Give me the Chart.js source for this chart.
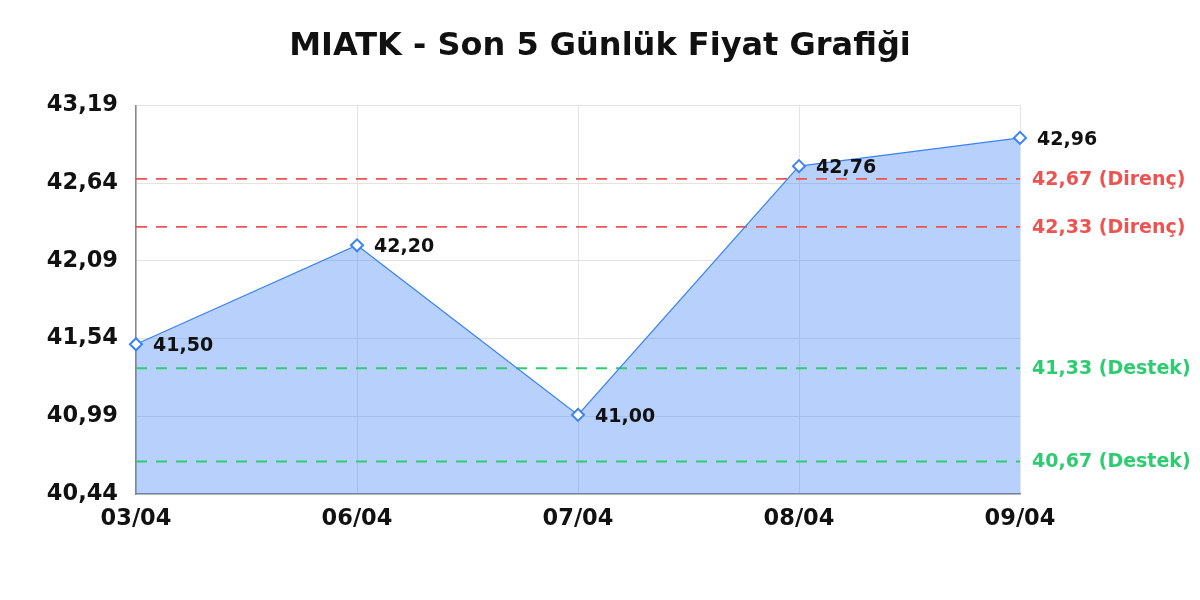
<!DOCTYPE html>
<html>
<head>
<meta charset="utf-8">
<script src="https://cdn.jsdelivr.net/npm/chart.js@4"></script>
<style>
  html, body { margin: 0; padding: 0; background: #fff; }
  #wrap { width: 1200px; height: 600px; }
</style>
</head>
<body>
<div id="wrap"><canvas id="priceChart"></canvas></div>
<script>
const dates = ['03/04', '06/04', '07/04', '08/04', '09/04'];
const prices = [41.50, 42.20, 41.00, 42.76, 42.96];
const yTicks = [40.44, 40.99, 41.54, 42.09, 42.64, 43.19];

const resistances = [42.67, 42.33];
const supports = [41.33, 40.67];

const RED = '#ec5454';
const GREEN = '#2ecc71';
const BLUE = '#3b82f6';
const FONT = "'DejaVu Sans', Verdana, sans-serif";

const fmt = v => v.toFixed(2).replace('.', ',');

// horizontal levels as flat datasets so they go through the y scale
const levelSets = [
    ...resistances.map(v => ({ value: v, kind: 'Direnç', color: RED })),
    ...supports.map(v => ({ value: v, kind: 'Destek', color: GREEN }))
].map(l => ({
    label: fmt(l.value) + ' (' + l.kind + ')',
    data: dates.map(() => l.value),
    borderColor: l.color,
    borderWidth: 1.8,
    borderDash: [11, 9],
    pointRadius: 0,
    fill: false,
    levelColor: l.color
}));

const labelPlugin = {
    id: 'labelPlugin',
    afterDatasetsDraw(chart) {
        const ctx = chart.ctx;
        const area = chart.chartArea;
        ctx.save();
        ctx.textBaseline = 'middle';
        ctx.textAlign = 'left';
        // price labels
        const meta = chart.getDatasetMeta(0);
        ctx.font = 'bold 19px ' + FONT;
        ctx.fillStyle = '#111';
        meta.data.forEach((pt, i) => {
            ctx.fillText(fmt(prices[i]), pt.x + 17, pt.y + 2);
        });
        // level labels on the right
        chart.data.datasets.forEach(ds => {
            if (!ds.levelColor) return;
            const y = chart.scales.y.getPixelForValue(ds.data[0]);
            ctx.fillStyle = ds.levelColor;
            ctx.fillText(ds.label, area.right + 12, y + 1);
        });
        ctx.restore();
    }
};

new Chart(document.getElementById('priceChart'), {
    type: 'line',
    data: {
        labels: dates,
        datasets: [
            {
                label: 'MIATK',
                data: prices,
                borderColor: BLUE,
                borderWidth: 1.2,
                backgroundColor: 'rgba(59, 130, 246, 0.37)',
                fill: 'start',
                tension: 0,
                pointStyle: 'rectRot',
                pointRadius: 6,
                pointBorderWidth: 2,
                pointBackgroundColor: '#fff',
                pointBorderColor: BLUE
            },
            ...levelSets
        ]
    },
    options: {
        responsive: true,
        maintainAspectRatio: false,
        animation: false,
        layout: { padding: 0 },
        plugins: {
            legend: { display: false },
            tooltip: { enabled: false },
            filler: { drawTime: 'beforeDatasetsDraw' },
            title: {
                display: true,
                text: 'MIATK - Son 5 Günlük Fiyat Grafiği',
                color: '#111',
                font: { family: FONT, size: 32, weight: 'bold' },
                padding: { top: 27, bottom: 40 }
            }
        },
        scales: {
            x: {
                offset: false,
                grid: { color: '#e3e3e3', drawTicks: false },
                border: { color: '#888', width: 1.5 },
                ticks: {
                    color: '#111',
                    padding: 12,
                    maxRotation: 0,
                    font: { family: FONT, size: 22.5, weight: 'bold' }
                },
                afterFit: s => { s.height = 106; }
            },
            y: {
                min: yTicks[0],
                max: yTicks[yTicks.length - 1],
                grid: { color: '#e3e3e3', drawTicks: false },
                border: { color: '#888', width: 1.5 },
                afterBuildTicks: s => { s.ticks = yTicks.map(v => ({ value: v })); },
                ticks: {
                    color: '#111',
                    padding: 18,
                    callback: v => fmt(v),
                    font: { family: FONT, size: 22.5, weight: 'bold' }
                },
                afterFit: s => { s.width = 136; }
            },
            // empty right axis, only reserves room for the level labels
            side: {
                position: 'right',
                grid: { display: false },
                border: { display: false },
                ticks: { display: false },
                afterFit: s => { s.width = 180; }
            }
        }
    },
    plugins: [labelPlugin]
});
</script>
</body>
</html>
